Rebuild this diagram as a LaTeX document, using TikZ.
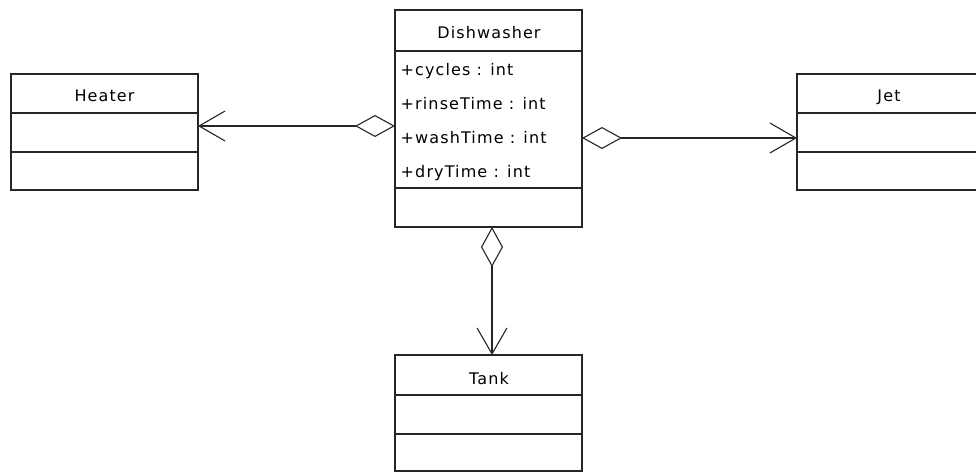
\documentclass[tikz,border=0pt]{standalone}
\usepackage{fontspec}
\usetikzlibrary{arrows.meta}
\newfontfamily\umlfont[LetterSpace=7]{DejaVu Sans}
\begin{document}
\begin{tikzpicture}[x=1pt,y=-1pt,
  classbox/.style={draw=black!85, line width=1.3pt, inner sep=0pt, outer sep=0pt, anchor=north west, fill=white},
  sep/.style={draw=black!85, line width=1.3pt},
  lbl/.style={inner sep=0pt, font=\umlfont\fontsize{16}{18}\selectfont, text=black},
  agg/.style={draw=black!85, line width=1.3pt,
    {Diamond[open, length=40pt, width=22pt, line width=1.1pt]}-{Straight Barb[length=26pt, width=30pt, line width=1.1pt]}}
]
\useasboundingbox (0,0) rectangle (976,471);
\fill[white] (0,0) rectangle (976,471);
\clip (0,0) rectangle (976,471);

% Dishwasher
\node[classbox, minimum width=187pt, minimum height=217pt] (dw) at (395,10) {};
\draw[sep] (395,51) -- (582,51);
\draw[sep] (395,188) -- (582,188);
\node[lbl, anchor=base] (dwname) at (489,38.5) {Dishwasher};
\node[lbl, anchor=base west] (a1) at (400.5,75) {+cycles : int};
\node[lbl, anchor=base west] (a2) at (400.5,109) {+rinseTime : int};
\node[lbl, anchor=base west] (a3) at (400.5,143) {+washTime : int};
\node[lbl, anchor=base west] (a4) at (400.5,177) {+dryTime : int};

% Heater
\node[classbox, minimum width=187pt, minimum height=116pt] (heater) at (11,74) {};
\draw[sep] (11,113) -- (198,113);
\draw[sep] (11,152) -- (198,152);
\node[lbl, anchor=base] (hname) at (104.5,101.5) {Heater};

% Jet
\node[classbox, minimum width=187pt, minimum height=116pt] (jet) at (797,74) {};
\draw[sep] (797,113) -- (984,113);
\draw[sep] (797,152) -- (984,152);
\node[lbl, anchor=base] (jname) at (889,101.5) {Jet};

% Tank
\node[classbox, minimum width=187pt, minimum height=116pt] (tank) at (395,355) {};
\draw[sep] (395,395) -- (582,395);
\draw[sep] (395,434) -- (582,434);
\node[lbl, anchor=base] (tname) at (489,384) {Tank};

% Connectors
\draw[agg] ([yshift=-7.5pt]dw.west) -- ([yshift=6pt]heater.east);
\draw[agg] ([yshift=-19.5pt]dw.east) -- ([yshift=-6pt]jet.west);
\draw[agg] ([xshift=3.5pt]dw.south) -- ([xshift=3.5pt]tank.north);
\end{tikzpicture}
\end{document}
